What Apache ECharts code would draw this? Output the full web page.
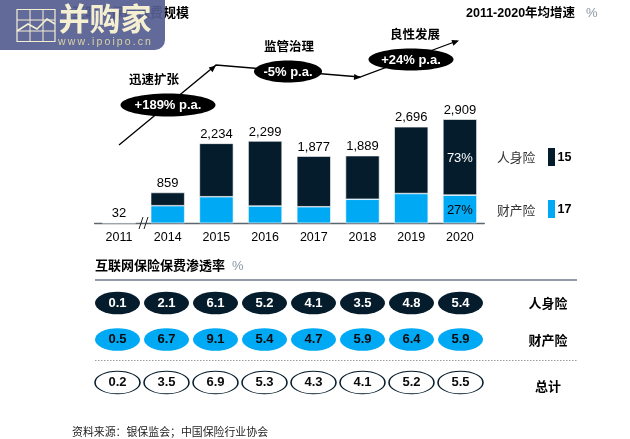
<!DOCTYPE html>
<html><head><meta charset="utf-8">
<style>html,body{margin:0;padding:0;background:#fff}#c{width:630px;height:439px}</style>
<script src="https://cdn.jsdelivr.net/npm/echarts@6/dist/echarts.min.js"></script>
</head><body><div id="c"></div>
<script>
const years = ['2011','2014','2015','2016','2017','2018','2019','2020'];
const lifePremium = [15,369,1494,1819,1417,1219,1866,2124];
const propertyPremium = [17,490,740,480,460,670,830,785];
const totalPremium = [32,859,2234,2299,1877,1889,2696,2909];
const lifePenetration = [0.1,2.1,6.1,5.2,4.1,3.5,4.8,5.4];
const propertyPenetration = [0.5,6.7,9.1,5.4,4.7,5.9,6.4,5.9];
const totalPenetration = [0.2,3.5,6.9,5.3,4.3,4.1,5.2,5.5];
const lifeCagr = 15, propertyCagr = 17;
const sharesLast = {life:'73%', property:'27%'};

const DARK='#051c2c', BLUE='#00a9f4', LATIN='"Liberation Sans",Arial,"Noto Sans CJK SC",sans-serif';
const chart = echarts.init(document.getElementById('c'),null,{renderer:'canvas'});

const rowYs=[303,339.5,382.5];
const grids=[{left:94.65,width:389.6,top:115.95,height:107.25}];
const xAxes=[{gridIndex:0,type:'category',data:years,axisTick:{show:false},
  axisLine:{lineStyle:{color:'#5a6670',width:1.4}},
  axisLabel:{color:'#000',fontSize:12.5,fontFamily:LATIN,margin:8.5,interval:0}}];
const yAxes=[{gridIndex:0,type:'value',min:0,max:3000,show:false}];
rowYs.forEach((y,i)=>{
  grids.push({left:93,width:392,top:y-10,height:20});
  xAxes.push({gridIndex:i+1,type:'category',data:years,show:false});
  yAxes.push({gridIndex:i+1,type:'value',min:-1,max:1,show:false});
});
const ELL='path://M0 50A50 50 0 1 1 100 50A50 50 0 1 1 0 50Z';
function row(idx,vals,fill,border,txt){
  return {type:'scatter',xAxisIndex:idx,yAxisIndex:idx,symbol:ELL,symbolKeepAspect:false,symbolSize:[45,22.5],
    data:vals.map((v,i)=>({value:[years[i],0],raw:v})),
    itemStyle:{color:fill,borderColor:border,borderWidth:border==='none'?0:1.1,opacity:1},
    label:{show:true,position:'inside',color:txt,fontSize:13,fontWeight:'bold',fontFamily:LATIN,
      formatter:p=>p.data.raw.toFixed(1)},
    emphasis:{disabled:true},silent:true};
}
const fmt=v=>v.toLocaleString('en-US');
const series=[
 {type:'bar',stack:'a',barWidth:34,data:propertyPremium.map((v,i)=>i===7?{value:v,label:{show:true,position:'inside',offset:[0,1],formatter:sharesLast.property,color:'#000',fontSize:13,fontFamily:LATIN}}:v),
  itemStyle:{color:BLUE,borderColor:'#fff',borderWidth:0.6},silent:true},
 {type:'bar',stack:'a',barWidth:34,data:lifePremium.map((v,i)=>i===7?{value:v,label:{show:true,position:'inside',offset:[0,1],formatter:sharesLast.life,color:'#fff',fontSize:13,fontFamily:LATIN}}:v),
  itemStyle:{color:DARK,borderColor:'#fff',borderWidth:0.6},silent:true},
 {type:'scatter',symbolSize:1,data:totalPremium,itemStyle:{color:'#000',opacity:0},
  label:{show:true,position:'top',distance:2,color:'#000',opacity:1,fontSize:13,fontFamily:LATIN,formatter:p=>fmt(p.value)},silent:true},
 row(1,lifePenetration,DARK,'none','#fff'),
 row(2,propertyPenetration,BLUE,'none','#0a0a0a'),
 row(3,totalPenetration,'#fff',DARK,'#0a0a0a')
];

function arrow(x0,y0,x1,y1){
  const a=Math.atan2(y1-y0,x1-x0),L=7,W=3;
  const bx=x1-L*Math.cos(a),by=y1-L*Math.sin(a),nx=-Math.sin(a),ny=Math.cos(a);
  return {type:'polygon',z:20,shape:{points:[[x1,y1],[bx+W*nx,by+W*ny],[bx-W*nx,by-W*ny]]},style:{fill:'#000'}};
}
const seg=(pts)=>({type:'polyline',z:20,shape:{points:pts},style:{stroke:'#000',lineWidth:1.3,fill:null}});
const t=(x,y,text,o={})=>({type:'text',z:o.z||30,x,y,style:Object.assign({text,fill:'#000',font:`${o.w||'bold'} ${o.s||12.5}px ${LATIN}`,textAlign:o.a||'left',textVerticalAlign:'middle'},o.st||{})});
const oval=(cx,cy,rx,ry,label)=>[
  {type:'ellipse',z:25,shape:{cx,cy,rx,ry},style:{fill:'#000'}},
  t(cx,cy+0.5,label,{a:'center',s:13,st:{fill:'#fff'}})
];
const hline=(y,x0,x1,st)=>({type:'line',z:5,shape:{x1:x0,y1:y,x2:x1,y2:y},style:st});
const www='www.ipoipo.cn'.split('').join('\u2009');

const graphic=[
 t(72,13,'互联网保险保费规模',{s:13,z:2}),
 t(466,14,'2011-2020年均增速',{s:12.5}),
 t(586,13.5,'%',{w:'normal',s:13,st:{fill:'#8a97a3'}}),
 t(129,81,'迅速扩张',{s:12.5}),
 t(264,48,'监管治理',{s:12.5}),
 t(390,36,'良性发展',{s:12.5}),
 seg([[119,145],[216,65],[360,77],[457,41]]),
 arrow(119,145,216,65.5),arrow(216,65,361,77.5),arrow(360,77,459,40.5),
 ...oval(168,105,47.5,11.5,'+189% p.a.'),
 ...oval(288,71.5,34,11,'-5% p.a.'),
 ...oval(411,59.5,42.5,11,'+24% p.a.'),
 {type:'line',z:10,shape:{x1:139,y1:229,x2:143,y2:217},style:{stroke:'#222',lineWidth:1}},
 {type:'line',z:10,shape:{x1:144,y1:229,x2:148,y2:217},style:{stroke:'#222',lineWidth:1}},
 t(497,158,'人身险',{w:'normal',s:12.8,st:{fill:'#333'}}),
 t(497,211,'财产险',{w:'normal',s:12.8,st:{fill:'#333'}}),
 {type:'rect',z:10,shape:{x:548,y:148,width:7,height:18},style:{fill:DARK}},
 {type:'rect',z:10,shape:{x:548,y:200,width:7,height:18},style:{fill:BLUE}},
 t(557.5,157.5,String(lifeCagr),{s:12.5}),
 t(557.5,209.5,String(propertyCagr),{s:12.5}),
 t(95,266,'互联网保险保费渗透率',{s:13}),
 t(232,266,'%',{w:'normal',s:13,st:{fill:'#8a97a3'}}),
 hline(280,95,577,{stroke:'#6b7a88',lineWidth:1.6}),
 hline(360.5,95,577,{stroke:'#9a9a9a',lineWidth:1,lineDash:[1.5,1.5]}),
 t(548,304,'人身险',{a:'center',s:13}),
 t(548,341,'财产险',{a:'center',s:13}),
 t(548,387,'总计',{a:'center',s:13}),
 t(72,433,'资料来源\uFF1A银保监会\uFF1B中国保险行业协会',{w:'normal',s:10.9,st:{fill:'#222'}}),
 {type:'rect',z:50,shape:{x:-10,y:-10,width:175,height:60,r:[0,8,10,10]},style:{fill:'#565f92',opacity:0.93}},
 {type:'group',z:51,children:[
   {type:'rect',z:51,shape:{x:17,y:9.5,width:38,height:32},style:{fill:'none',stroke:'#f5efd2',lineWidth:1.2}},
   {type:'line',z:51,shape:{x1:17,y1:20,x2:55,y2:20},style:{stroke:'#f5efd2',lineWidth:1}},
   {type:'line',z:51,shape:{x1:17,y1:31,x2:55,y2:31},style:{stroke:'#f5efd2',lineWidth:1}},
   {type:'line',z:51,shape:{x1:30,y1:9.5,x2:30,y2:41.5},style:{stroke:'#f5efd2',lineWidth:1}},
   {type:'line',z:51,shape:{x1:43,y1:9.5,x2:43,y2:41.5},style:{stroke:'#f5efd2',lineWidth:1}},
   {type:'polyline',z:51,shape:{points:[[17,31],[28,24],[37,29],[47,19],[55,24]]},style:{stroke:'#f5efd2',lineWidth:1.6,fill:null}}
 ]},
 t(105,21,'并购家',{a:'center',s:31,z:52,st:{fill:'#f5efd2'}}),
 t(104.5,42,www,{a:'center',s:10.5,w:'normal',z:52,st:{fill:'#d9d3a8'}})
];

chart.setOption({animation:false,backgroundColor:'#fff',grid:grids,xAxis:xAxes,yAxis:yAxes,series,graphic});
</script></body></html>
